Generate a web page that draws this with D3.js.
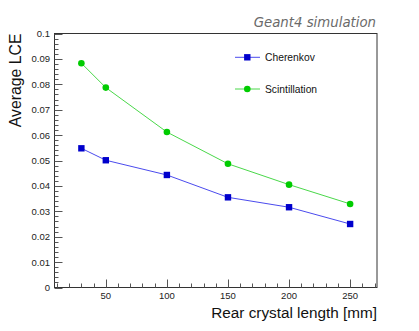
<!DOCTYPE html>
<html><head><meta charset="utf-8">
<script src="https://cdn.jsdelivr.net/npm/d3@7"></script>
<style>html,body{margin:0;padding:0;background:#fff;}svg{display:block;}</style>
</head><body>
<script>
const lengths = [30, 50, 100, 150, 200, 250];
const cherenkov = [0.0548, 0.0501, 0.0443, 0.0355, 0.0316, 0.0250];
const scintillation = [0.0883, 0.0787, 0.0612, 0.0487, 0.0405, 0.0329];
const xTicks = [50, 100, 150, 200, 250];
const yTicks = [0, 0.01, 0.02, 0.03, 0.04, 0.05, 0.06, 0.07, 0.08, 0.09, 0.1];
const seriesNames = ["Cherenkov", "Scintillation"];

const W = 419, H = 331;
const L = 54.5, R = 377, T = 33.5, B = 287.5;
const svg = d3.select("body").append("svg").attr("width", W).attr("height", H);
const x = d3.scaleLinear().domain([8, 272]).range([L, R]);
const y = d3.scaleLinear().domain([0, 0.1]).range([B, T]);
const font = "Liberation Sans, Arial, sans-serif";

// frame
svg.append("rect").attr("x", L).attr("y", T).attr("width", R - L).attr("height", B - T)
  .attr("fill", "none").attr("stroke", "#333").attr("stroke-width", 1);

// y minor ticks
const yMinor = d3.range(0, 51).map(i => i * 0.002);
svg.append("g").selectAll("line").data(yMinor).join("line")
  .attr("x1", L).attr("x2", d => L + (Math.round(d * 1000) % 10 === 0 ? 8 : 4))
  .attr("y1", d => Math.round(y(d)) + 0.5).attr("y2", d => Math.round(y(d)) + 0.5)
  .attr("stroke", "#555").attr("stroke-width", 1);
svg.append("g").selectAll("text").data(yTicks).join("text")
  .attr("x", L - 4.5).attr("y", d => y(d) + 3.5).attr("text-anchor", "end")
  .attr("font-family", font).attr("font-size", 9.5).attr("fill", "#222")
  .text(d => d === 0 ? "0" : (d === 0.1 ? "0.1" : d3.format(".2f")(d)));

// x minor ticks
const xMinor = d3.range(10, 271, 10);
svg.append("g").selectAll("line").data(xMinor).join("line")
  .attr("x1", d => Math.round(x(d)) + 0.5).attr("x2", d => Math.round(x(d)) + 0.5)
  .attr("y1", B).attr("y2", d => B - (d % 50 === 0 ? 8 : 4))
  .attr("stroke", "#555").attr("stroke-width", 1);
svg.append("g").selectAll("text").data(xTicks).join("text")
  .attr("x", d => x(d)).attr("y", 298.5).attr("text-anchor", "middle")
  .attr("font-family", font).attr("font-size", 9.5).attr("fill", "#222")
  .text(d => d);

// axis titles
svg.append("text").attr("x", R).attr("y", 317.5).attr("text-anchor", "end")
  .attr("font-family", font).attr("font-size", 15.3).attr("fill", "#111")
  .text("Rear crystal length [mm]");
svg.append("text").attr("transform", `translate(20.5,${T}) rotate(-90)`).attr("text-anchor", "end")
  .attr("font-family", font).attr("font-size", 15.8).attr("fill", "#111")
  .text("Average LCE");

// header
svg.append("text").attr("x", R - 1).attr("y", 27.3).attr("text-anchor", "end")
  .attr("font-family", "DejaVu Sans, sans-serif").attr("font-style", "italic")
  .attr("font-size", 13.3).attr("fill", "#6a6a6a")
  .text("Geant4 simulation");

const line = d3.line().x((d, i) => x(lengths[i])).y(d => y(d));
const blueLine = "#4b4bee", blueMark = "#0000cc";
const greenLine = "#4ad84a", greenMark = "#00cc00";

svg.append("path").datum(scintillation).attr("d", line).attr("fill", "none")
  .attr("stroke", greenLine).attr("stroke-width", 1);
svg.append("path").datum(cherenkov).attr("d", line).attr("fill", "none")
  .attr("stroke", blueLine).attr("stroke-width", 1);
svg.append("g").selectAll("circle").data(scintillation).join("circle")
  .attr("cx", (d, i) => x(lengths[i])).attr("cy", d => y(d)).attr("r", 3.3).attr("fill", greenMark);
svg.append("g").selectAll("rect").data(cherenkov).join("rect")
  .attr("x", (d, i) => x(lengths[i]) - 3.2).attr("y", d => y(d) - 3.2)
  .attr("width", 6.4).attr("height", 6.4).attr("fill", blueMark);

// legend
const leg = svg.append("g");
const legY = [57.3, 89];
leg.append("line").attr("x1", 235).attr("x2", 260).attr("y1", legY[0]).attr("y2", legY[0]).attr("stroke", blueLine);
leg.append("rect").attr("x", 247.3 - 3.2).attr("y", legY[0] - 3.2).attr("width", 6.4).attr("height", 6.4).attr("fill", blueMark);
leg.append("line").attr("x1", 235).attr("x2", 260).attr("y1", legY[1]).attr("y2", legY[1]).attr("stroke", greenLine);
leg.append("circle").attr("cx", 247.3).attr("cy", legY[1]).attr("r", 3.3).attr("fill", greenMark);
leg.selectAll("text").data(seriesNames).join("text")
  .attr("x", 265).attr("y", (d, i) => legY[i] + 3.7)
  .attr("font-family", font).attr("font-size", 10.3).attr("fill", "#111")
  .text(d => d);
</script>
</body></html>
